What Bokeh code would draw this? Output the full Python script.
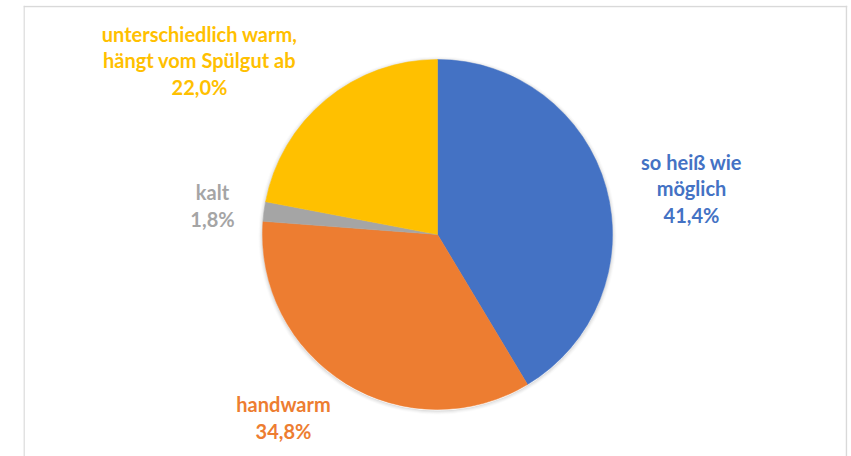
import math
from bokeh.plotting import figure
from bokeh.models import ColumnDataSource, Range1d, Span
from bokeh.core.properties import value
from bokeh.embed import file_html
from bokeh.resources import INLINE

# ---- data ----
categories = ["so heiß wie\nmöglich", "handwarm", "kalt", "unterschiedlich warm,\nhängt vom Spülgut ab"]
shares = [41.4, 34.8, 1.8, 22.0]
colors = ["#4472C4", "#ED7D31", "#A5A5A5", "#FFC000"]

# ---- layout (label anchor points relative to pie centre, px-like units) ----
label_x = [254, -154, -225, -238]
label_y = [46, -183, 29, 174]
radius = 175

total = sum(shares)
starts, ends = [], []
a = math.pi / 2
for s in shares:
    starts.append(a)
    a -= 2 * math.pi * s / total
    ends.append(a)

labels = [f"{c}\n{s:.1f}%".replace(".", ",") for c, s in zip(categories, shares)]

src = ColumnDataSource(dict(start=starts, end=ends, color=colors, label=labels,
                            lx=label_x, ly=label_y))

W, H = 848, 456
p = figure(width=W, height=H, output_backend="svg", toolbar_location=None,
           x_range=Range1d(-414, 410), y_range=Range1d(-222, 229),
           min_border_left=23, min_border_right=1, min_border_top=5, min_border_bottom=0)
p.axis.visible = False
p.grid.visible = False
p.outline_line_color = None
p.background_fill_color = "white"
p.border_fill_color = "white"

# soft shadow
for k, al in [(1, 0.10), (2, 0.07), (3, 0.05), (4, 0.03)]:
    p.annulus(x=0, y=-1, inner_radius=radius, outer_radius=radius + k,
              fill_color="#7f7f7f", fill_alpha=al, line_color=None)

p.wedge(x=0, y=0, radius=radius, start_angle="start", end_angle="end",
        direction="clock", fill_color="color", line_color="color", line_width=0.5,
        source=src)

p.text(x="lx", y="ly", text="label", text_color="color", source=src,
       text_font=value("Lato"), text_font_style="bold", text_font_size="20px",
       text_align="center", text_baseline="middle", text_line_height=1.1)

# chart border (left, right, top)
border = "#d9d9d9"
p.add_layout(Span(location=-413.5, dimension="height", line_color=border, line_width=1.5))
p.add_layout(Span(location=409, dimension="height", line_color=border, line_width=1.5))
p.add_layout(Span(location=228, dimension="width", line_color=border, line_width=1.5))

open("out.html", "w").write(file_html(p, INLINE))
